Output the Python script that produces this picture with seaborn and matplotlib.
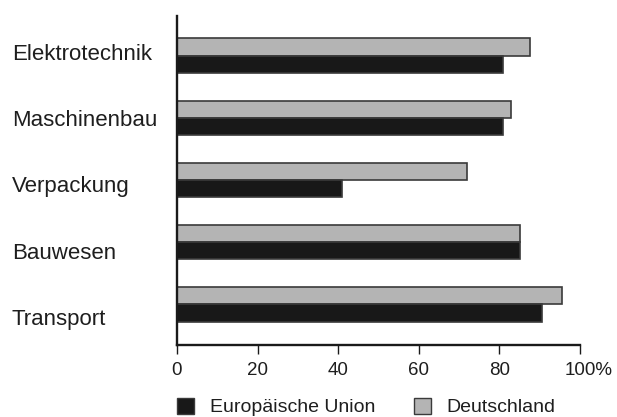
import matplotlib
matplotlib.use("Agg")
import matplotlib.pyplot as plt
from matplotlib.patches import Patch
from matplotlib.transforms import ScaledTranslation
import pandas as pd
import seaborn as sns

# Share of companies per sector (percent)
categories = ["Elektrotechnik", "Maschinenbau", "Verpackung", "Bauwesen", "Transport"]
eu_values = [81, 81, 41, 85, 90.5]
de_values = [87.5, 83, 72, 85, 95.5]
series_names = ["Europäische Union", "Deutschland"]
x_ticks = [0, 20, 40, 60, 80, 100]
x_tick_labels = ["0", "20", "40", "60", "80", "100%"]
# vertical placement of the sector names (row units)
label_rows = [-0.066, 1.002, 2.065, 3.148, 4.206]

df = pd.DataFrame({
    "Branche": categories * 2,
    "Anteil": eu_values + de_values,
    "Region": [series_names[0]] * len(categories) + [series_names[1]] * len(categories),
})

sns.set_style("white")
plt.rcParams["font.family"] = ["Liberation Sans", "DejaVu Sans"]

BLACK = "#181818"
GRAY = "#b4b4b4"
EDGE = "#3a3a3a"
TEXT = "#1e1e1e"

fig = plt.figure(figsize=(6.17, 4.17), dpi=100)
ax = fig.add_axes([177 / 617, 1 - 345 / 417, 403 / 617, 329 / 417])

sns.barplot(
    data=df, y="Branche", x="Anteil", hue="Region",
    order=categories, hue_order=[series_names[1], series_names[0]],
    palette={series_names[0]: BLACK, series_names[1]: GRAY},
    orient="h", width=0.56, edgecolor=EDGE, linewidth=1.2,
    legend=False, ax=ax,
)

ax.set_xlim(0, 100)
ax.set_ylim(4.657, -0.641)
ax.set_xlabel("")
ax.set_ylabel("")

for side in ["top", "right"]:
    ax.spines[side].set_visible(False)
for side in ["left", "bottom"]:
    ax.spines[side].set_color("#1a1a1a")
    ax.spines[side].set_linewidth(1.7)

ax.set_xticks(x_ticks)
ax.set_xticklabels(x_tick_labels, fontsize=13.5, color=TEXT)
ax.tick_params(axis="x", direction="out", length=6.5, width=1.0, color="#1a1a1a", pad=5.5, bottom=True)

# keep the number of the last label centred on its tick, with the percent sign trailing
last = ax.get_xticklabels()[-1]
last.set_transform(last.get_transform() + ScaledTranslation(0.083, 0, fig.dpi_scale_trans))

ax.set_yticks(label_rows)
ax.set_yticklabels(categories, fontsize=16, color=TEXT, ha="left")
ax.tick_params(axis="y", length=0, pad=118.8, left=False)

handles = [
    Patch(facecolor=BLACK, edgecolor=EDGE, linewidth=1.0),
    Patch(facecolor=GRAY, edgecolor=EDGE, linewidth=1.0),
]
fig.legend(
    handles, series_names, ncol=2, loc="center left",
    bbox_to_anchor=(177 / 617, 1 - 407 / 417), frameon=False,
    fontsize=14, handlelength=0.88, handleheight=0.88, handletextpad=0.8,
    columnspacing=2.0, borderpad=0, borderaxespad=0, labelcolor=TEXT,
)

fig.savefig("out.png", dpi=100, facecolor="white")
